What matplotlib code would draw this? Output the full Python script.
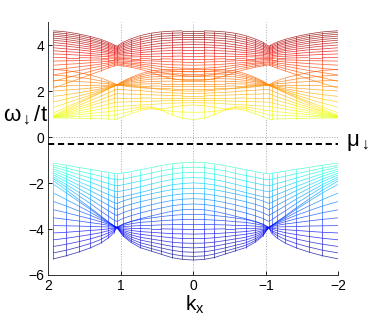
import numpy as np
import matplotlib
matplotlib.use("Agg")
import matplotlib.pyplot as plt
from matplotlib.collections import LineCollection
from matplotlib.colors import Normalize

plt.rcParams['font.family'] = ['Liberation Sans', 'DejaVu Sans']
plt.rcParams['mathtext.fontset'] = 'custom'
plt.rcParams['mathtext.rm'] = 'Liberation Sans'
plt.rcParams['mathtext.it'] = 'Liberation Sans'
plt.rcParams['mathtext.bf'] = 'Liberation Sans:bold'

# ---- data ----
# mesh columns (kx) on the left half (kx >= 0) and on the right half (kx <= 0)
kx_left = [0.00, 0.15, 0.30, 0.45, 0.59, 0.73, 0.86, 0.97, 1.055, 1.10, 1.17, 1.28, 1.42, 1.58, 1.75, 1.93]
kx_right = [0.00, -0.15, -0.29, -0.44, -0.58, -0.72, -0.85, -0.96, -1.04, -1.08, -1.15, -1.27, -1.42, -1.59, -1.78, -2.00]

# each row: omega of one mesh line at the columns above (picture is mirror symmetric in kx)
band_low = [
    [-1.09, -1.11, -1.16, -1.24, -1.33, -1.42, -1.50, -1.56, -1.60, -1.58, -1.54, -1.48, -1.40, -1.32, -1.22, -1.13],
    [-1.31, -1.33, -1.39, -1.47, -1.57, -1.67, -1.75, -1.82, -1.86, -1.83, -1.78, -1.70, -1.59, -1.48, -1.35, -1.22],
    [-1.53, -1.55, -1.61, -1.70, -1.81, -1.91, -2.00, -2.07, -2.12, -2.09, -2.02, -1.92, -1.78, -1.63, -1.46, -1.30],
    [-1.76, -1.78, -1.85, -1.94, -2.05, -2.16, -2.26, -2.33, -2.38, -2.34, -2.26, -2.13, -1.96, -1.79, -1.59, -1.39],
    [-1.99, -2.02, -2.08, -2.18, -2.30, -2.41, -2.51, -2.59, -2.64, -2.59, -2.50, -2.35, -2.15, -1.94, -1.70, -1.47],
    [-2.22, -2.24, -2.29, -2.38, -2.47, -2.57, -2.67, -2.78, -2.89, -2.84, -2.73, -2.56, -2.33, -2.09, -1.83, -1.56],
    [-2.45, -2.47, -2.53, -2.61, -2.71, -2.81, -2.92, -3.03, -3.15, -3.09, -2.97, -2.77, -2.52, -2.24, -1.94, -1.64],
    [-2.68, -2.70, -2.76, -2.85, -2.95, -3.06, -3.17, -3.29, -3.41, -3.34, -3.21, -2.99, -2.70, -2.40, -2.07, -1.73],
    [-2.91, -2.93, -2.99, -3.09, -3.19, -3.30, -3.42, -3.54, -3.67, -3.60, -3.45, -3.21, -2.89, -2.55, -2.18, -1.81],
    [-3.14, -3.16, -3.23, -3.33, -3.44, -3.55, -3.67, -3.80, -3.93, -3.85, -3.69, -3.42, -3.08, -2.71, -2.31, -1.90],
    [-3.36, -3.37, -3.41, -3.46, -3.52, -3.58, -3.67, -3.78, -3.93, -3.86, -3.70, -3.46, -3.14, -2.80, -2.43, -2.05],
    [-3.58, -3.59, -3.61, -3.64, -3.68, -3.71, -3.77, -3.84, -3.93, -3.85, -3.72, -3.52, -3.27, -3.00, -2.72, -2.43],
    [-3.80, -3.80, -3.81, -3.82, -3.84, -3.85, -3.87, -3.90, -3.93, -3.85, -3.75, -3.59, -3.40, -3.21, -3.00, -2.80],
    [-4.01, -4.01, -4.00, -3.99, -3.99, -3.98, -3.97, -3.95, -3.93, -3.87, -3.79, -3.68, -3.55, -3.43, -3.29, -3.16],
    [-4.22, -4.21, -4.20, -4.17, -4.14, -4.11, -4.06, -4.01, -3.93, -3.89, -3.84, -3.78, -3.72, -3.65, -3.58, -3.51],
    [-4.42, -4.41, -4.38, -4.33, -4.28, -4.23, -4.16, -4.06, -3.93, -3.92, -3.91, -3.90, -3.89, -3.87, -3.86, -3.85],
    [-4.62, -4.61, -4.57, -4.50, -4.43, -4.36, -4.25, -4.11, -3.93, -3.96, -3.99, -4.03, -4.06, -4.10, -4.14, -4.17],
    [-4.82, -4.80, -4.75, -4.66, -4.57, -4.48, -4.34, -4.16, -3.93, -4.00, -4.07, -4.16, -4.24, -4.32, -4.40, -4.47],
    [-5.01, -4.99, -4.92, -4.82, -4.71, -4.60, -4.43, -4.21, -3.93, -4.06, -4.17, -4.30, -4.43, -4.55, -4.66, -4.76],
    [-5.19, -5.17, -5.09, -4.96, -4.84, -4.71, -4.51, -4.26, -3.93, -4.11, -4.27, -4.46, -4.63, -4.78, -4.92, -5.04],
    [-5.35, -5.32, -5.24, -5.09, -4.95, -4.81, -4.58, -4.30, -3.93, -4.18, -4.38, -4.62, -4.82, -5.00, -5.16, -5.30],
]

band_mid = [
    [0.76, 0.82, 0.98, 1.18, 1.24, 1.16, 1.02, 0.89, 0.78, 0.78, 0.79, 0.80, 0.81, 0.82, 0.83, 0.84],
    [1.08, 1.09, 1.12, 1.19, 1.28, 1.24, 1.13, 1.04, 0.97, 0.96, 0.95, 0.94, 0.92, 0.90, 0.88, 0.85],
    [1.40, 1.37, 1.30, 1.22, 1.32, 1.31, 1.25, 1.19, 1.15, 1.14, 1.11, 1.07, 1.03, 0.98, 0.92, 0.86],
    [1.50, 1.49, 1.48, 1.45, 1.42, 1.40, 1.37, 1.35, 1.34, 1.32, 1.28, 1.22, 1.14, 1.06, 0.97, 0.87],
    [1.60, 1.60, 1.59, 1.58, 1.56, 1.55, 1.54, 1.53, 1.52, 1.49, 1.44, 1.35, 1.25, 1.14, 1.01, 0.88],
    [1.70, 1.70, 1.70, 1.70, 1.70, 1.71, 1.71, 1.71, 1.71, 1.67, 1.60, 1.50, 1.37, 1.22, 1.06, 0.89],
    [1.80, 1.80, 1.81, 1.83, 1.84, 1.86, 1.87, 1.88, 1.89, 1.84, 1.76, 1.63, 1.47, 1.30, 1.11, 0.90],
    [1.90, 1.91, 1.93, 1.95, 1.98, 2.02, 2.04, 2.07, 2.08, 2.02, 1.93, 1.78, 1.59, 1.38, 1.16, 0.92],
    [2.00, 2.01, 2.04, 2.08, 2.13, 2.18, 2.22, 2.25, 2.27, 2.20, 2.10, 1.92, 1.71, 1.47, 1.22, 0.94],
    [2.11, 2.11, 2.11, 2.12, 2.13, 2.15, 2.19, 2.23, 2.27, 2.21, 2.11, 1.95, 1.76, 1.54, 1.31, 1.05],
    [2.22, 2.22, 2.22, 2.22, 2.23, 2.23, 2.25, 2.26, 2.27, 2.21, 2.13, 1.99, 1.83, 1.66, 1.48, 1.29],
    [2.33, 2.33, 2.33, 2.33, 2.32, 2.31, 2.30, 2.29, 2.27, 2.22, 2.15, 2.04, 1.92, 1.79, 1.66, 1.53],
    [2.44, 2.44, 2.44, 2.43, 2.42, 2.39, 2.35, 2.31, 2.27, 2.23, 2.18, 2.10, 2.02, 1.93, 1.85, 1.77],
    [2.55, 2.55, 2.55, 2.54, 2.52, 2.47, 2.41, 2.34, 2.27, 2.25, 2.22, 2.18, 2.13, 2.09, 2.05, 2.01],
    [2.66, 2.66, 2.65, 2.64, 2.62, 2.55, 2.46, 2.37, 2.27, 2.27, 2.26, 2.26, 2.25, 2.25, 2.24, 2.24],
    [2.76, 2.76, 2.75, 2.74, 2.71, 2.62, 2.51, 2.39, 2.27, 2.29, 2.32, 2.35, 2.39, 2.42, 2.45, 2.47],
    [2.86, 2.86, 2.85, 2.83, 2.80, 2.69, 2.56, 2.42, 2.27, 2.32, 2.38, 2.45, 2.53, 2.60, 2.66, 2.70],
    [2.95, 2.95, 2.94, 2.92, 2.88, 2.76, 2.60, 2.44, 2.27, 2.35, 2.45, 2.58, 2.70, 2.81, 2.90, 2.95],
]

band_up = [
    [4.63, 4.63, 4.61, 4.58, 4.52, 4.42, 4.28, 4.13, 3.95, 4.03, 4.13, 4.26, 4.38, 4.49, 4.58, 4.63],
    [4.54, 4.54, 4.52, 4.49, 4.42, 4.33, 4.20, 4.06, 3.90, 3.98, 4.07, 4.19, 4.31, 4.42, 4.50, 4.56],
    [4.45, 4.45, 4.42, 4.39, 4.33, 4.24, 4.12, 3.99, 3.85, 3.92, 4.01, 4.12, 4.23, 4.34, 4.42, 4.48],
    [4.35, 4.35, 4.32, 4.29, 4.23, 4.14, 4.04, 3.93, 3.81, 3.87, 3.95, 4.06, 4.16, 4.26, 4.34, 4.40],
    [4.25, 4.25, 4.22, 4.19, 4.13, 4.05, 3.96, 3.86, 3.76, 3.82, 3.89, 3.98, 4.08, 4.17, 4.25, 4.31],
    [4.14, 4.13, 4.11, 4.08, 4.02, 3.95, 3.88, 3.80, 3.71, 3.76, 3.83, 3.91, 4.00, 4.09, 4.16, 4.22],
    [4.03, 4.02, 4.00, 3.97, 3.92, 3.86, 3.80, 3.73, 3.66, 3.70, 3.76, 3.84, 3.92, 3.99, 4.06, 4.12],
    [3.91, 3.91, 3.89, 3.86, 3.82, 3.77, 3.72, 3.67, 3.62, 3.66, 3.70, 3.77, 3.83, 3.90, 3.96, 4.01],
    [3.79, 3.79, 3.77, 3.75, 3.72, 3.68, 3.64, 3.61, 3.57, 3.60, 3.64, 3.69, 3.74, 3.80, 3.84, 3.89],
    [3.66, 3.66, 3.65, 3.63, 3.61, 3.59, 3.56, 3.54, 3.52, 3.54, 3.57, 3.60, 3.64, 3.69, 3.72, 3.76],
    [3.53, 3.53, 3.52, 3.52, 3.51, 3.50, 3.49, 3.48, 3.47, 3.48, 3.50, 3.52, 3.55, 3.57, 3.60, 3.62],
    [3.40, 3.40, 3.40, 3.41, 3.41, 3.42, 3.42, 3.43, 3.43, 3.43, 3.44, 3.44, 3.45, 3.46, 3.46, 3.47],
    [3.27, 3.27, 3.28, 3.30, 3.32, 3.34, 3.35, 3.37, 3.38, 3.37, 3.37, 3.36, 3.35, 3.33, 3.32, 3.31],
    [3.13, 3.14, 3.15, 3.18, 3.22, 3.25, 3.29, 3.31, 3.33, 3.32, 3.30, 3.27, 3.24, 3.20, 3.17, 3.13],
    [2.99, 3.00, 3.03, 3.07, 3.13, 3.18, 3.22, 3.25, 3.28, 3.26, 3.23, 3.18, 3.12, 3.06, 2.99, 2.93],
    [2.84, 2.85, 2.89, 2.96, 3.04, 3.11, 3.17, 3.21, 3.24, 3.21, 3.16, 3.09, 3.00, 2.90, 2.81, 2.70],
    [2.66, 2.68, 2.73, 2.82, 2.93, 3.03, 3.10, 3.15, 3.19, 3.15, 3.09, 2.98, 2.86, 2.72, 2.58, 2.43],
    [2.45, 2.48, 2.55, 2.67, 2.82, 2.95, 3.04, 3.10, 3.14, 3.09, 3.01, 2.88, 2.72, 2.53, 2.34, 2.13],
]

mu_down = -0.28
xticks = [2, 1, 0, -1, -2]
yticks = [-6, -4, -2, 0, 2, 4]
xlim = (2, -2)
ylim = (-6, 5)

# ---- figure ----
W, H = 374, 319
fig = plt.figure(figsize=(W / 100, H / 100), dpi=100)
ax = fig.add_axes([48.3 / W, 44 / H, 290 / W, 252.75 / H])

kx_full = np.array(kx_right[::-1] + kx_left[1:])
bands = [np.array([r[::-1] + r[1:] for r in b]) for b in (band_low, band_mid, band_up)]
allv = np.concatenate([b.ravel() for b in bands])
norm = Normalize(vmin=allv.min(), vmax=allv.max())

# opaque (white) mesh faces that hide the grid
for b in bands:
    ax.fill_between(kx_full, b.min(axis=0), b.max(axis=0), color='white', lw=0, zorder=1)

segs, vals = [], []
for b in bands:
    for row in b:
        for i in range(len(kx_full) - 1):
            segs.append([(kx_full[i], row[i]), (kx_full[i + 1], row[i + 1])])
            vals.append(0.5 * (row[i] + row[i + 1]))
    for i in range(len(kx_full)):
        col = np.sort(b[:, i])
        for j in range(len(col) - 1):
            if col[j + 1] - col[j] > 1e-6:
                segs.append([(kx_full[i], col[j]), (kx_full[i], col[j + 1])])
                vals.append(0.5 * (col[j] + col[j + 1]))

lc = LineCollection(segs, cmap='jet', norm=norm, linewidths=0.55, alpha=0.75, zorder=2)
lc.set_array(np.array(vals))
ax.add_collection(lc)

ax.axhline(mu_down, color='black', lw=1.4, ls=(0, (3.2, 1.9)), zorder=3)

ax.set_xlim(*xlim)
ax.set_ylim(*ylim)
ax.set_xticks(xticks)
ax.set_yticks(yticks)
ax.grid(True, ls=':', color='#a8a8a8', lw=0.7)
ax.set_axisbelow(True)
for s in ('top', 'right'):
    ax.spines[s].set_visible(False)
for s in ('left', 'bottom'):
    ax.spines[s].set_color('#333333')
    ax.spines[s].set_linewidth(0.7)
ax.tick_params(direction='in', length=3, width=0.6, labelsize=10, pad=3, colors='black')

fig.text(3 / W, 1 - 121 / H, r'$\omega_{\downarrow}$/t', fontsize=16, ha='left', va='baseline')
fig.text(346 / W, 1 - 146 / H, r'$\mu_{\downarrow}$', fontsize=16, ha='left', va='baseline')
fig.text(195 / W, 1 - 311 / H, r'$\mathrm{k_x}$', fontsize=15, ha='center', va='baseline')

fig.savefig('out.png', dpi=100)
